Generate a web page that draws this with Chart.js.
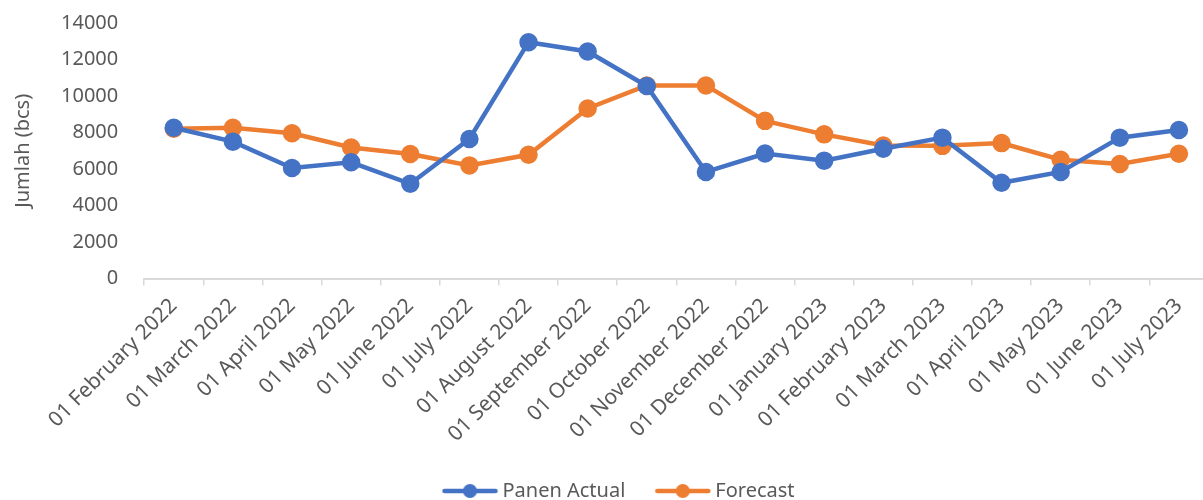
<!DOCTYPE html>
<html>
<head>
<meta charset="utf-8">
<script src="https://cdn.jsdelivr.net/npm/chart.js@4"></script>
<style>
  html, body { margin: 0; padding: 0; background: #fff; overflow: hidden; }
  #wrap { width: 1220px; height: 500px; }
</style>
</head>
<body>
<div id="wrap"><canvas id="chart"></canvas></div>
<script>
const months = ['01 February 2022', '01 March 2022', '01 April 2022', '01 May 2022', '01 June 2022',
    '01 July 2022', '01 August 2022', '01 September 2022', '01 October 2022', '01 November 2022',
    '01 December 2022', '01 January 2023', '01 February 2023', '01 March 2023', '01 April 2023',
    '01 May 2023', '01 June 2023', '01 July 2023'];
const panenActual = [8260, 7500, 6060, 6370, 5190, 7650, 12950, 12440, 10550, 5840,
    6850, 6460, 7110, 7720, 5250, 5840, 7720, 8140];
const forecast = [8210, 8260, 7960, 7180, 6820, 6200, 6780, 9320, 10580, 10580,
    8640, 7900, 7290, 7270, 7420, 6510, 6280, 6840];
const yTicks = { min: 0, max: 14000, step: 2000 };

const BLUE = '#4472C4';
const ORANGE = '#ED7D31';
const GREY = '#595959';
const FONT = "'Noto Sans', 'Open Sans', sans-serif";

// legend marker: short line with a dot in the middle,
// drawn off-centre so it sits close to its label text
function legendMarker(color) {
    const c = document.createElement('canvas');
    c.width = 70; c.height = 16;
    const g = c.getContext('2d');
    g.strokeStyle = color;
    g.lineWidth = 4.5;
    g.lineCap = 'round';
    g.beginPath(); g.moveTo(14, 8); g.lineTo(65, 8); g.stroke();
    g.fillStyle = color;
    g.beginPath(); g.arc(39.5, 8, 7, 0, Math.PI * 2); g.fill();
    return c;
}
const markers = [legendMarker(BLUE), legendMarker(ORANGE)];

// nudge the legend a little to the right
const legendShift = {
    id: 'legendShift',
    afterLayout(ch) {
        ch.legend.left += 1;
        ch.legend.right += 1;
    }
};

const chart = document.querySelector('#chart').getContext('2d');
new Chart(chart, {
    type: 'line',
    plugins: [legendShift],
    data: {
        labels: months,
        datasets: [
            {
                label: 'Panen Actual',
                data: panenActual,
                borderColor: BLUE,
                backgroundColor: BLUE,
                borderWidth: 4.5,
                pointRadius: 7,
                pointHoverRadius: 7,
                tension: 0,
            },
            {
                label: 'Forecast',
                data: forecast,
                borderColor: ORANGE,
                backgroundColor: ORANGE,
                borderWidth: 4.5,
                pointRadius: 7,
                pointHoverRadius: 7,
                tension: 0,
            }
        ]
    },
    options: {
        responsive: true,
        maintainAspectRatio: false,
        animation: false,
        layout: { padding: { left: 11, right: 0, top: 23, bottom: -11 } },
        plugins: {
            tooltip: { enabled: false },
            legend: {
                position: 'bottom',
                labels: {
                    usePointStyle: true,
                    pointStyleWidth: 54,
                    boxHeight: 16,
                    padding: 26,
                    color: GREY,
                    font: { family: FONT, size: 20 },
                    generateLabels(ch) {
                        const items = Chart.defaults.plugins.legend.labels.generateLabels(ch);
                        items.forEach((it, i) => { it.pointStyle = markers[i]; });
                        return items;
                    }
                }
            }
        },
        scales: {
            x: {
                offset: true,
                grid: {
                    offset: true,
                    drawOnChartArea: false,
                    drawTicks: true,
                    tickLength: 7,
                    color: '#d9d9d9',
                    lineWidth: 1.5
                },
                border: { color: '#d9d9d9', width: 2 },
                ticks: {
                    color: GREY,
                    font: { family: FONT, size: 21 },
                    maxRotation: 45,
                    minRotation: 45,
                    padding: 8,
                    autoSkip: false
                }
            },
            y: {
                min: yTicks.min,
                max: yTicks.max,
                grid: { display: false },
                border: { display: false },
                afterFit(scale) {
                    scale.paddingTop = 0;
                    scale.paddingBottom = 0;
                },
                ticks: {
                    stepSize: yTicks.step,
                    color: GREY,
                    padding: 18,
                    font: { family: FONT, size: 20 },
                    callback: v => String(v)
                },
                title: {
                    display: true,
                    text: 'Jumlah (bcs)',
                    color: GREY,
                    font: { family: FONT, size: 20 },
                    padding: { top: 0, bottom: 8 }
                }
            }
        }
    }
});
</script>
</body>
</html>
